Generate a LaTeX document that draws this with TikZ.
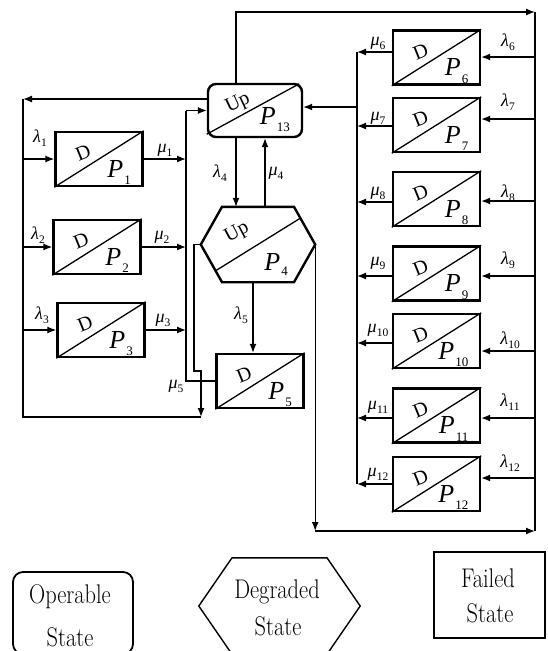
\documentclass[tikz,border=0pt]{standalone}
\usepackage{fontspec}
\newfontfamily\tnr{Liberation Serif}
\usetikzlibrary{arrows.meta,calc}
\newcommand\gsub[2]{\textit{#1}\kern0.2pt\raisebox{-4pt}{\fontsize{11.5}{11.5}\selectfont #2}}
\newcommand\psub[1]{\textit{P}\kern1pt\raisebox{-7.5pt}{\fontsize{13}{13}\selectfont #1}}
\newcommand\dstate[4]{%
  \node[dbox] (#1) at (#2,#3) {};
  \draw[diag] (#1.south west) -- (#1.north east);
  \node[dlab] (#1d) at ($(#1)+(-16,-6)$) {D};
  \node[plab] (#1p) at ($(#1)+(32,18)$) {\psub{#4}};
}
\begin{document}
\begin{tikzpicture}[x=1pt,y=-1pt,
  conn/.style={line width=1.3pt},
  arr/.style={line width=1.3pt,-{Latex[length=9pt,width=7pt]}},
  dbox/.style={draw,line width=2.4pt,minimum width=87pt,minimum height=54pt,inner sep=0pt},
  upbox/.style={draw,line width=2.4pt,rounded corners=8pt,minimum width=94pt,minimum height=53pt,inner sep=0pt},
  diag/.style={line width=1.3pt},
  dlab/.style={font=\tnr\fontsize{20}{20}\selectfont,inner sep=0pt,rotate=22},
  plab/.style={font=\tnr\fontsize{26}{26}\selectfont,inner sep=0pt,anchor=base east},
  glab/.style={font=\tnr\fontsize{18}{18}\selectfont,inner sep=0pt},
  legtext/.style={font=\fontsize{27}{27}\selectfont,inner sep=0pt,anchor=base,xscale=0.83}
]
\useasboundingbox (0,0) rectangle (547,651);

% ---------- operable state P13 ----------
\node[upbox] (P13) at (255,110.5) {};
\draw[diag] ($(P13.south west)+(0,-4)$) -- ($(P13.north east)+(-4,1)$);
\node[dlab,rotate=3] (P13d) at ($(P13)+(-17,-7)$) {Up};
\node[plab] (P13p) at ($(P13)+(35,13.5)$) {\psub{13}};

% ---------- degraded state P4 ----------
\node[inner sep=0pt,minimum width=114pt,minimum height=75pt] (P4) at (258,244.5) {};
\draw[line width=2.4pt,line join=miter] (P4.west) -- ($(P4.north)+(-36,0)$) -- ($(P4.north)+(36,0)$) -- (P4.east)
  -- ($(P4.south)+(36,0)$) -- ($(P4.south)+(-36,0)$) -- cycle;
\draw[diag] (215.7,270.7) -- (300.3,218.2);
\node[dlab,rotate=6] (P4d) at ($(P4)+(-21,-12)$) {Up};
\node[plab] (P4p) at ($(P4)+(30,26)$) {\textit{P}\kern1pt\raisebox{-5pt}{\fontsize{13}{13}\selectfont 4}};

% ---------- failed states ----------
\dstate{P1}{99}{159}{1}
\dstate{P2}{97}{247}{2}
\dstate{P3}{101}{330}{3}
\dstate{P5}{260}{381}{5}
\dstate{P6}{436.5}{57.5}{6}
\dstate{P7}{436.5}{125}{7}
\dstate{P8}{436.5}{199}{8}
\dstate{P9}{436.5}{273.5}{9}
\dstate{P10}{436.5}{341}{10}
\dstate{P11}{436.5}{415.5}{11}
\dstate{P12}{436.5}{484}{12}

% ---------- helper coordinates ----------
\coordinate (xl4) at (236,0);
\coordinate (xm4) at (265,0);
\coordinate (xl5) at (253,0);
\coordinate (MB) at (186,0);
\coordinate (MBt) at (186,110.5);
\coordinate (LBt) at (23,99);
\coordinate (LBb) at (23,417);
\coordinate (LBc) at (201,417);
\coordinate (j1) at (194,244.5);
\coordinate (j2) at (194,371);
\coordinate (j3) at (201,371);
\coordinate (RBt) at (535,12);
\coordinate (RBb) at (535,531);
\coordinate (m13) at (357,107);
\coordinate (m6) at (357,52);   \coordinate (l6) at (535,57);
\coordinate (m7) at (357,126);  \coordinate (l7) at (535,119);
\coordinate (m8) at (357,202);  \coordinate (l8) at (535,201);
\coordinate (m9) at (357,276);  \coordinate (l9) at (535,276);
\coordinate (m10) at (357,343); \coordinate (l10) at (535,351);
\coordinate (m11) at (357,418); \coordinate (l11) at (535,418);
\coordinate (m12) at (357,484); \coordinate (l12) at (535,478);

% ---------- left part ----------
\draw[arr] (P13.west |- LBt) -- (LBt);
\draw[conn] (LBt) -- (LBb) -- (LBc);
\draw[arr] (LBt |- P1.west) -- (P1.west);
\draw[arr] (LBt |- P2.west) -- (P2.west);
\draw[arr] (LBt |- P3.west) -- (P3.west);
\draw[arr] (P1.east) -- (MB |- P1.east);
\draw[arr] (P2.east) -- (MB |- P2.east);
\draw[arr] (P3.east) -- (MB |- P3.east);
\draw[conn] (P5.west) -- (MB |- P5.west) -- (MBt);
\draw[arr] (MBt) -- (P13.west);
\draw[arr] (P4.west) -- (j1) -- (j2) -- (j3) -- (LBc);

% ---------- centre ----------
\draw[arr] (P13.south -| xl4) -- (P4.north -| xl4);
\draw[arr] (P4.north -| xm4) -- (P13.south -| xm4);
\draw[arr] (P4.south -| xl5) -- (P5.north -| xl5);

% ---------- right part ----------
\draw[arr] (P13.north -| xl4) |- (RBt);
\draw[conn] (RBt) -- (RBb);
\draw[arr] (P4.east) -- (P4.east |- RBb);
\draw[arr] (P4.east |- RBb) -- (RBb);
\draw[conn] (m6) -- (m12);
\draw[arr] (m13) -- (P13.east |- m13);
\foreach \k in {6,...,12}{
  \draw[arr] (l\k) -- (P\k.east |- l\k);
  \draw[arr] (P\k.west |- m\k) -- (m\k);
}

% ---------- rate labels ----------
\node[glab] (la1) at (40,138) {\gsub{λ}{1}};
\node[glab] (la2) at (38,235) {\gsub{λ}{2}};
\node[glab] (la3) at (42,315) {\gsub{λ}{3}};
\node[glab] (mu1) at (165,150) {\gsub{μ}{1}};
\node[glab] (mu2) at (162,237) {\gsub{μ}{2}};
\node[glab] (mu3) at (163,320) {\gsub{μ}{3}};
\node[glab] (la4) at (220,173) {\gsub{λ}{4}};
\node[glab] (mu4) at (276,173) {\gsub{μ}{4}};
\node[glab] (la5) at (241,315) {\gsub{λ}{5}};
\node[glab] (mu5) at (176,386) {\gsub{μ}{5}};
\node[glab] (mu6) at (378,43) {\gsub{μ}{6}};
\node[glab] (la6) at (508,42) {\gsub{λ}{6}};
\node[glab] (mu7) at (378,118) {\gsub{μ}{7}};
\node[glab] (la7) at (508,102) {\gsub{λ}{7}};
\node[glab] (mu8) at (378,193) {\gsub{μ}{8}};
\node[glab] (la8) at (508,193) {\gsub{λ}{8}};
\node[glab] (mu9) at (378,263) {\gsub{μ}{9}};
\node[glab] (la9) at (508,260) {\gsub{λ}{9}};
\node[glab] (mu10) at (378,330) {\gsub{μ}{10}};
\node[glab] (la10) at (510,340) {\gsub{λ}{10}};
\node[glab] (mu11) at (378,407) {\gsub{μ}{11}};
\node[glab] (la11) at (510,402) {\gsub{λ}{11}};
\node[glab] (mu12) at (378,474) {\gsub{μ}{12}};
\node[glab] (la12) at (510,463) {\gsub{λ}{12}};

% ---------- legend ----------
\node[draw,line width=1.8pt,rounded corners=10pt,minimum width=120pt,minimum height=82pt,inner sep=0pt] (op) at (73,613) {};
\node[legtext] (opt1) at (70,603) {Operable};
\node[legtext] (opt2) at (70,646) {State};
\node[inner sep=0pt,minimum width=161pt,minimum height=96pt] (dg) at (279.5,606) {};
\draw[line width=1.4pt] (dg.west) -- ($(dg.north)+(-47.5,0)$) -- ($(dg.north)+(47.5,0)$) -- (dg.east)
  -- ($(dg.south)+(47.5,0)$) -- ($(dg.south)+(-47.5,0)$) -- cycle;
\node[legtext] (dgt1) at (277,598) {Degraded};
\node[legtext] (dgt2) at (278,635) {State};
\node[draw,line width=1.8pt,minimum width=111pt,minimum height=86pt,inner sep=0pt] (fl) at (489.5,595) {};
\node[legtext] (flt1) at (488,587) {Failed};
\node[legtext] (flt2) at (490,622) {State};
\end{tikzpicture}
\end{document}
